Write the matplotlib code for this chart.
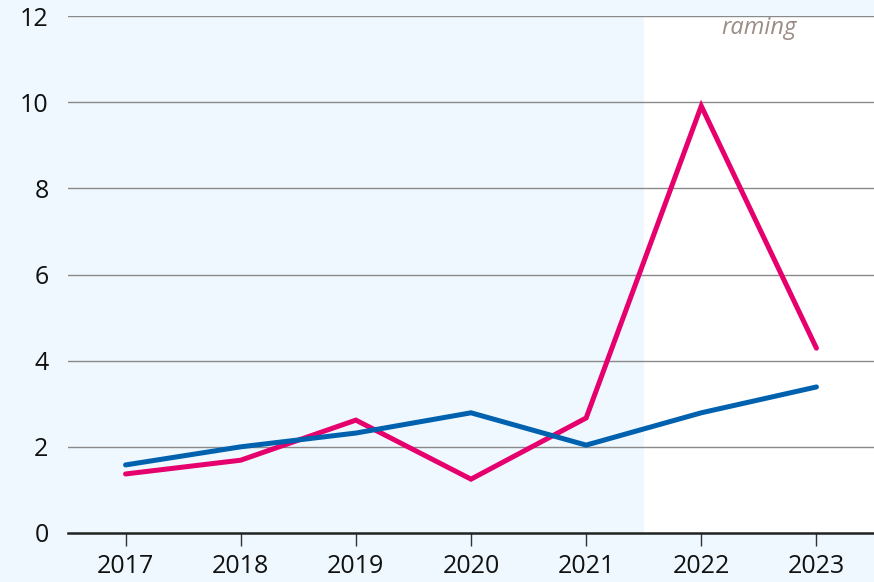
import matplotlib
matplotlib.use("Agg")
import matplotlib.pyplot as plt

years = [2017, 2018, 2019, 2020, 2021, 2022, 2023]
pink = [1.37, 1.69, 2.62, 1.25, 2.67, 9.91, 4.29]
blue = [1.58, 2.00, 2.32, 2.79, 2.04, 2.79, 3.39]
yticks = [0, 2, 4, 6, 8, 10, 12]
forecast_label = "raming"

bg = "#eef8fe"
fig = plt.figure(figsize=(8.74, 5.82), dpi=100, facecolor=bg)
ax = fig.add_axes([68/874, 49/582, 1 - 68/874, (533-16)/582])
ax.set_facecolor("white")
ax.axvspan(2016.5, 2021.5, color=bg, zorder=0, lw=0)

for y in yticks[1:]:
    ax.axhline(y, color="#8a8a8a", lw=1.0, zorder=1)

ax.plot(years, pink, color="#e5006d", lw=3.6, zorder=3, solid_capstyle="round", solid_joinstyle="miter")
ax.plot(years, blue, color="#0061af", lw=3.6, zorder=4, solid_capstyle="round", solid_joinstyle="miter")

ax.set_xlim(2016.5, 2023.5)
ax.set_ylim(0, 12)
ax.set_xticks(years)
ax.set_xticklabels([str(y) for y in years])
ax.set_yticks(yticks)
ax.set_yticklabels([str(y) for y in yticks])

for s in ["top", "right", "left"]:
    ax.spines[s].set_visible(False)
ax.spines["bottom"].set_color("#222222")
ax.spines["bottom"].set_linewidth(1.8)
ax.spines["bottom"].set_zorder(5)

ax.tick_params(axis="x", length=9, width=1, color="#333333", pad=6, labelsize=18)
ax.tick_params(axis="y", length=0, pad=14, labelsize=18)
for lbl in ax.get_xticklabels() + ax.get_yticklabels():
    lbl.set_fontfamily("Open Sans")
    lbl.set_color("#111111")

ax.text(2022.5, 11.72, forecast_label, ha="center", va="center", fontsize=17,
        style="italic", color="#9c8c86", family="Open Sans")

fig.savefig("out.png", dpi=100, facecolor=bg)
